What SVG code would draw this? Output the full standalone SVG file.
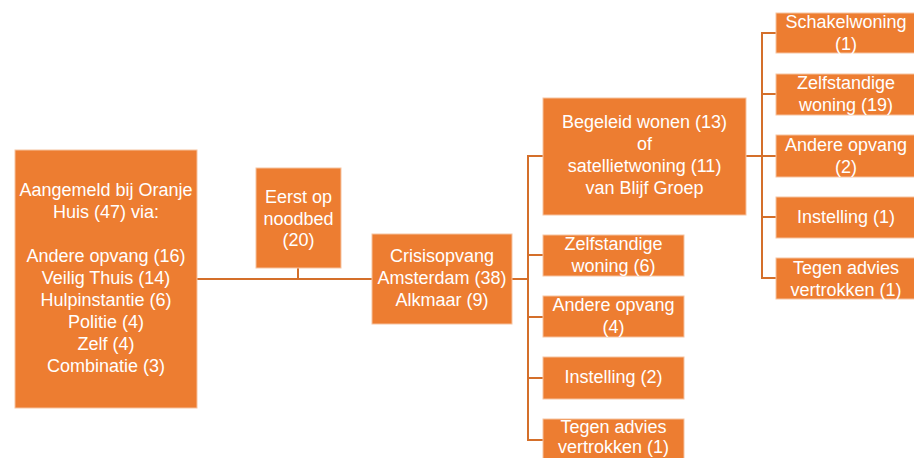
<svg xmlns="http://www.w3.org/2000/svg" width="914" height="458" viewBox="0 0 914 458">
<style>
.box{fill:#ED7D31;stroke:#F6C3A0;stroke-width:1}
.t{font-family:"Liberation Sans",Arial,sans-serif;font-size:18px;fill:#FFFFFF;text-anchor:middle}
.c{fill:none;stroke:#D46F2A;stroke-width:2}
</style>
<rect width="914" height="458" fill="#FFFFFF"/>
<g id="connectors">
<path class="c" d="M197,279 H372"/>
<path class="c" d="M298,268 V279"/>
<path class="c" d="M512,279 H528"/>
<path class="c" d="M543,156 H528 V440 H543"/>
<path class="c" d="M528,255 H543"/>
<path class="c" d="M528,317 H543"/>
<path class="c" d="M528,378 H543"/>
<path class="c" d="M746,156 H762"/>
<path class="c" d="M776,33 H762 V278 H776"/>
<path class="c" d="M762,94 H776"/>
<path class="c" d="M762,156 H776"/>
<path class="c" d="M762,217 H776"/>
</g>
<g id="aangemeld">
<rect class="box" x="15" y="150" width="182" height="258"/>
<text class="t" x="106" y="196">Aangemeld bij Oranje</text>
<text class="t" x="106" y="218">Huis (47) via:</text>
<text class="t" x="106" y="262">Andere opvang (16)</text>
<text class="t" x="106" y="284">Veilig Thuis (14)</text>
<text class="t" x="106" y="306">Hulpinstantie (6)</text>
<text class="t" x="106" y="328">Politie (4)</text>
<text class="t" x="106" y="350">Zelf (4)</text>
<text class="t" x="106" y="372">Combinatie (3)</text>
</g>
<g id="noodbed">
<rect class="box" x="256" y="168" width="85" height="100"/>
<text class="t" x="298.5" y="203">Eerst op</text>
<text class="t" x="298.5" y="224.5">noodbed</text>
<text class="t" x="298.5" y="246">(20)</text>
</g>
<g id="crisisopvang">
<rect class="box" x="372" y="234" width="140" height="90"/>
<text class="t" x="442" y="262">Crisisopvang</text>
<text class="t" x="442" y="284">Amsterdam (38)</text>
<text class="t" x="442" y="306">Alkmaar (9)</text>
</g>
<g id="begeleid">
<rect class="box" x="543" y="98" width="203" height="117"/>
<text class="t" x="644.5" y="128">Begeleid wonen (13)</text>
<text class="t" x="644.5" y="150">of</text>
<text class="t" x="644.5" y="172">satellietwoning (11)</text>
<text class="t" x="644.5" y="194">van Blijf Groep</text>
</g>
<g id="zelfstandig6">
<rect class="box" x="543" y="235" width="141" height="41"/>
<text class="t" x="613.5" y="250">Zelfstandige</text>
<text class="t" x="613.5" y="272">woning (6)</text>
</g>
<g id="andere4">
<rect class="box" x="543" y="296" width="141" height="41"/>
<text class="t" x="613.5" y="311">Andere opvang</text>
<text class="t" x="613.5" y="333">(4)</text>
</g>
<g id="instelling2">
<rect class="box" x="543" y="357" width="141" height="42"/>
<text class="t" x="613.5" y="383">Instelling (2)</text>
</g>
<g id="tegenadvies1a">
<rect class="box" x="543" y="419" width="141" height="42"/>
<text class="t" x="613.5" y="433">Tegen advies</text>
<text class="t" x="613.5" y="453">vertrokken (1)</text>
</g>
<g id="schakelwoning">
<rect class="box" x="776" y="13" width="140" height="40"/>
<text class="t" x="846" y="28">Schakelwoning</text>
<text class="t" x="846" y="50">(1)</text>
</g>
<g id="zelfstandig19">
<rect class="box" x="776" y="74" width="140" height="41"/>
<text class="t" x="846" y="89">Zelfstandige</text>
<text class="t" x="846" y="111">woning (19)</text>
</g>
<g id="andere2">
<rect class="box" x="776" y="135" width="140" height="42"/>
<text class="t" x="846" y="151">Andere opvang</text>
<text class="t" x="846" y="173">(2)</text>
</g>
<g id="instelling1">
<rect class="box" x="776" y="197" width="140" height="41"/>
<text class="t" x="846" y="223">Instelling (1)</text>
</g>
<g id="tegenadvies1b">
<rect class="box" x="776" y="258" width="140" height="41"/>
<text class="t" x="846" y="274">Tegen advies</text>
<text class="t" x="846" y="296">vertrokken (1)</text>
</g>
</svg>
